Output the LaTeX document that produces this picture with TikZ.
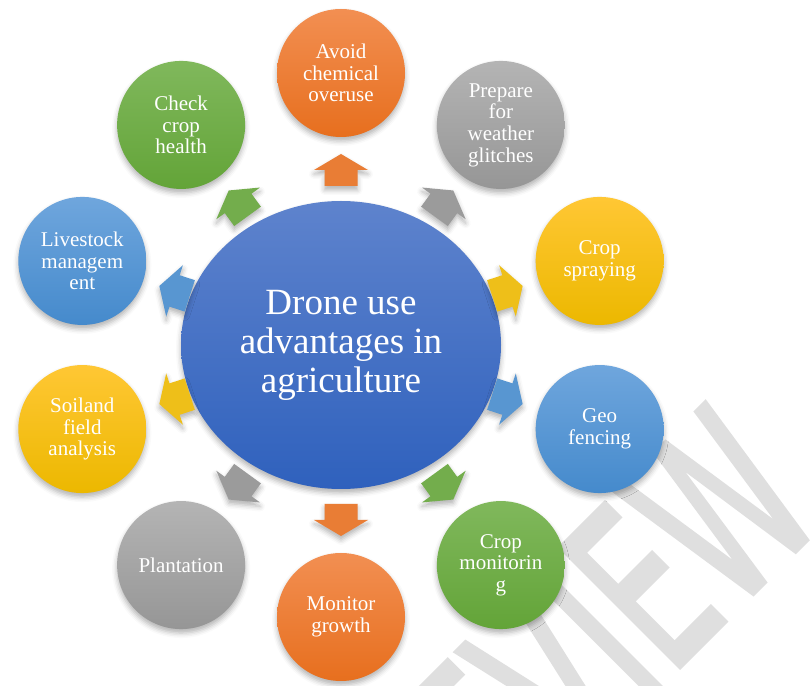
\documentclass[tikz,border=0pt]{standalone}
\usepackage{fontspec}
\setmainfont{Liberation Serif}
\newfontfamily\wmfont[FakeBold=2.5]{DejaVu Sans}
\usetikzlibrary{calc,shapes.geometric,shadows.blur}

\definecolor{hubtop}{RGB}{94,131,205}
\definecolor{hubbot}{RGB}{47,97,189}
\definecolor{orgtop}{RGB}{242,143,82}
\definecolor{orgbot}{RGB}{231,111,30}
\definecolor{grytop}{RGB}{180,180,180}
\definecolor{grybot}{RGB}{150,150,150}
\definecolor{goltop}{RGB}{255,199,52}
\definecolor{golbot}{RGB}{236,184,0}
\definecolor{blutop}{RGB}{111,166,221}
\definecolor{blubot}{RGB}{69,138,204}
\definecolor{grntop}{RGB}{128,184,92}
\definecolor{grnbot}{RGB}{99,164,56}

\begin{document}
\begin{tikzpicture}[x=1pt,y=1pt,
    soft/.style={blur shadow={shadow xshift=0pt, shadow yshift=-4pt, shadow blur radius=5pt, shadow opacity=30}},
    hubnode/.style={ellipse, minimum width=320pt, minimum height=288pt, inner sep=0pt, soft,
        top color=hubtop, bottom color=hubbot, text=white, align=center,
        font=\fontsize{37}{39}\selectfont},
    sat/.style={circle, minimum size=128pt, inner sep=0pt, soft, text=white, align=center,
        font=\fontsize{21}{21.7}\selectfont},
    arrw/.pic={\fill[soft] (159,-16.5) -- (175,-16.5) -- (175,-27) -- (191,0) -- (175,27) -- (175,16.5) -- (159,16.5) -- cycle;}]

    \useasboundingbox (0,0) rectangle (812,686);
    \clip (0,0) rectangle (812,686);

    % watermark behind everything
    \node[rotate=45, anchor=base east, inner sep=0pt, text=gray!25,
        font=\wmfont\fontsize{230}{230}\selectfont] (wm) at (828,168) {\scalebox{0.6}[1]{PREVIEW}};

    \node[hubnode] (hub) at (341,341) {Drone use\\advantages in\\agriculture};

    \node[sat, top color=orgtop, bottom color=orgbot] (avoid)  at ($(hub.center)+(90:272)$)   {Avoid\\chemical\\overuse};
    \node[sat, top color=grytop, bottom color=grybot] (prep)   at ($(hub.center)+(54:272)$)   {Prepare\\for\\weather\\glitches};
    \node[sat, top color=goltop, bottom color=golbot] (spray)  at ($(hub.center)+(18:272)$)   {Crop\\spraying};
    \node[sat, top color=blutop, bottom color=blubot] (geo)    at ($(hub.center)+(-18:272)$)  {Geo\\fencing};
    \node[sat, top color=grntop, bottom color=grnbot] (monit)  at ($(hub.center)+(-54:272)$)  {Crop\\monitorin\\g};
    \node[sat, top color=orgtop, bottom color=orgbot] (growth) at ($(hub.center)+(-90:272)$)  {Monitor\\growth};
    \node[sat, top color=grytop, bottom color=grybot] (plant)  at ($(hub.center)+(-126:272)$) {Plantation};
    \node[sat, top color=goltop, bottom color=golbot] (soil)   at ($(hub.center)+(-162:272)$) {Soiland\\field\\analysis};
    \node[sat, top color=blutop, bottom color=blubot] (live)   at ($(hub.center)+(162:272)$)  {Livestock\\managem\\ent};
    \node[sat, top color=grntop, bottom color=grnbot] (health) at ($(hub.center)+(126:272)$)  {Check\\crop\\health};

    % block arrows from the hub outwards
    \pic[rotate=90,   fill=orgbot!90!white] at (hub.center) {arrw};
    \pic[rotate=54,   fill=grybot!95!white] at (hub.center) {arrw};
    \pic[rotate=18,   fill=golbot!90!white] at (hub.center) {arrw};
    \pic[rotate=-18,  fill=blubot!90!white] at (hub.center) {arrw};
    \pic[rotate=-54,  fill=grnbot!90!white] at (hub.center) {arrw};
    \pic[rotate=-90,  fill=orgbot!90!white] at (hub.center) {arrw};
    \pic[rotate=-126, fill=grybot!95!white] at (hub.center) {arrw};
    \pic[rotate=-162, fill=golbot!90!white] at (hub.center) {arrw};
    \pic[rotate=162,  fill=blubot!90!white] at (hub.center) {arrw};
    \pic[rotate=126,  fill=grnbot!90!white] at (hub.center) {arrw};
\end{tikzpicture}
\end{document}
